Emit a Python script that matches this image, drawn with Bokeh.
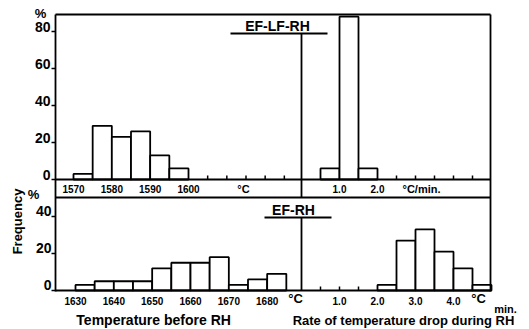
from bokeh.plotting import figure
from bokeh.models import Range1d
from bokeh.core.properties import value
from bokeh.embed import file_html
from bokeh.resources import INLINE
import math

# ---------------- data ----------------
TEMP_BIN = 5
RATE_BIN = 0.5

# EF-LF-RH
top_temp_bins = [1570, 1575, 1580, 1585, 1590, 1595]
top_temp_freq = [3, 29, 23, 26, 13, 6]
top_rate_bins = [0.5, 1.0, 1.5]
top_rate_freq = [6, 88, 6]

# EF-RH
bot_temp_bins = [1630, 1635, 1640, 1645, 1650, 1655, 1660, 1665, 1670, 1675, 1680]
bot_temp_freq = [3, 5, 5, 5, 12, 15, 15, 18, 3, 6, 9]
bot_rate_bins = [2.0, 2.5, 3.0, 3.5, 4.0, 4.5]
bot_rate_freq = [3, 27, 33, 21, 12, 3]

# tick labels
top_temp_ticks = [1570, 1580, 1590, 1600]
top_rate_ticks = [1.0, 2.0]
bot_temp_ticks = [1630, 1640, 1650, 1660, 1670, 1680]
bot_rate_ticks = [1.0, 2.0, 3.0, 4.0]
top_y_ticks = [0, 20, 40, 60, 80]
bot_y_ticks = [0, 20, 40]
# minor baseline ticks
top_temp_minor = [1605, 1610, 1615, 1620, 1625]
top_rate_minor = [2.5, 3.0, 3.5, 4.0, 4.5]
bot_rate_minor = [0.5, 1.0, 1.5]

# ---------------- layout ----------------
W, H = 529, 329
ORG = 0


def xr(v0, p0, s):
    return Range1d(start=v0 - (p0 - ORG) / s, end=v0 + (ORG + W - p0) / s)


def yr(v0, p0, s):
    return Range1d(start=v0 - (ORG + H - p0) / s, end=v0 + (p0 - ORG) / s)


TS = 115 / 30.0  # px per degC
RS = 38.0        # px per degC/min
YS = 1.85        # px per %

p = figure(width=W, height=H, output_backend="svg", toolbar_location=None,
           x_range=xr(1570, 73, TS), y_range=yr(0, 179, YS),
           x_axis_type=None, y_axis_type=None, min_border=0)
p.extra_x_ranges = {"bl": xr(1630, 75, TS), "r": xr(0, 301, RS),
                    "px": Range1d(start=ORG, end=ORG + W)}
p.extra_y_ranges = {"bot": yr(0, 290, YS), "py": Range1d(start=ORG + H, end=ORG)}
p.outline_line_color = None
p.background_fill_color = "white"
p.border_fill_color = "white"

LW = 1.8
K = "black"
FONT = value("Liberation Sans")

# ---------------- bars ----------------
def bars(bins, freq, w, xname, yname):
    p.quad(left=bins, right=[b + w for b in bins], bottom=[0] * len(bins), top=freq,
           fill_color="white", line_color=K, line_width=LW,
           x_range_name=xname, y_range_name=yname)

bars(top_temp_bins, top_temp_freq, TEMP_BIN, "default", "default")
bars(top_rate_bins, top_rate_freq, RATE_BIN, "r", "default")
bars(bot_temp_bins, bot_temp_freq, TEMP_BIN, "bl", "bot")
bars(bot_rate_bins, bot_rate_freq, RATE_BIN, "r", "bot")

# ---------------- frame ----------------
XL, XR = 55, 490
def seg_px(x0, y0, x1, y1, w=LW):
    p.segment(x0=[x0], y0=[y0], x1=[x1], y1=[y1], line_color=K, line_width=w,
              x_range_name="px", y_range_name="py")

seg_px(XL, 14, XR, 14)      # top border
seg_px(XL, 14, XL, 291)     # left axis
seg_px(XR, 14, XR, 291)     # right border
seg_px(XL, 197, XR, 197)    # strip bottom / lower panel top
seg_px(230, 33, 327, 33)    # title underline
seg_px(264, 217, 331, 217)  # title underline
# baselines
p.segment(x0=[XL], y0=[0], x1=[XR], y1=[0], line_color=K, line_width=LW,
          x_range_name="px", y_range_name="default")
p.segment(x0=[XL], y0=[0], x1=[XR], y1=[0], line_color=K, line_width=LW,
          x_range_name="px", y_range_name="bot")
# dividers at rate = 0
p.segment(x0=[0], y0=[33], x1=[0], y1=[197], line_color=K, line_width=LW,
          x_range_name="r", y_range_name="py")
p.segment(x0=[0], y0=[217], x1=[0], y1=[290], line_color=K, line_width=LW,
          x_range_name="r", y_range_name="py")

# y ticks (outward)
p.segment(x0=[51] * len(top_y_ticks), y0=top_y_ticks, x1=[XL] * len(top_y_ticks), y1=top_y_ticks,
          line_color=K, line_width=1.3, x_range_name="px", y_range_name="default")
p.segment(x0=[51] * len(bot_y_ticks), y0=bot_y_ticks, x1=[XL] * len(bot_y_ticks), y1=bot_y_ticks,
          line_color=K, line_width=1.3, x_range_name="px", y_range_name="bot")
# minor baseline ticks (upward)
TK = 4 / YS
for xs, xn, yn in [(top_temp_minor, "default", "default"), (top_rate_minor, "r", "default"),
                   (bot_rate_minor, "r", "bot")]:
    p.segment(x0=xs, y0=[0] * len(xs), x1=xs, y1=[TK] * len(xs), line_color=K,
              line_width=1.5, x_range_name=xn, y_range_name=yn)

# ---------------- texts ----------------
def txt(x, y, t, size, xn="px", yn="py", align="center", base="middle", angle=0, style="bold"):
    p.text(x=x, y=y, text=t, text_font=FONT, text_font_size=f"{size}px",
           text_font_style=style, text_color=K, text_align=align, text_baseline=base,
           angle=angle, x_range_name=xn, y_range_name=yn)

# y tick labels
txt([50] * len(top_y_ticks), [v + 4.5 / YS for v in top_y_ticks], [str(v) for v in top_y_ticks],
    14, xn="px", yn="default", align="right")
txt([51] * len(bot_y_ticks), [v + 5.5 / YS for v in bot_y_ticks], [str(v) for v in bot_y_ticks],
    14, xn="px", yn="bot", align="right")
txt([40], [13], ["%"], 13)
txt([33], [194], ["%"], 13)
txt([17], [221], ["Frequency"], 13, angle=math.pi / 2)

# titles
txt([277], [25], ["EF-LF-RH"], 14)
txt([293], [209], ["EF-RH"], 14)

# strip tick labels
txt(top_temp_ticks, [188] * len(top_temp_ticks), [str(v) for v in top_temp_ticks], 10,
    xn="default")
txt(top_rate_ticks, [188] * len(top_rate_ticks), [f"{v:.1f}" for v in top_rate_ticks], 10,
    xn="r")
txt([243], [188], ["\u00b0C"], 11)
txt([421], [188], ["\u00b0C/min."], 11)

# bottom tick labels
txt(bot_temp_ticks, [300] * len(bot_temp_ticks), [str(v) for v in bot_temp_ticks], 10,
    xn="bl")
txt(bot_rate_ticks, [300] * len(bot_rate_ticks), [f"{v:.1f}" for v in bot_rate_ticks], 10,
    xn="r")
txt([295], [298], ["\u00b0C"], 13)
txt([478], [298], ["\u00b0C"], 13)
txt([505], [308], ["min."], 11)

# axis titles
txt([157], [319], ["Temperature  before  RH"], 14)
txt([403], [320], ["Rate of temperature drop during RH"], 13)

open("out.html", "w").write(file_html(p, INLINE))
